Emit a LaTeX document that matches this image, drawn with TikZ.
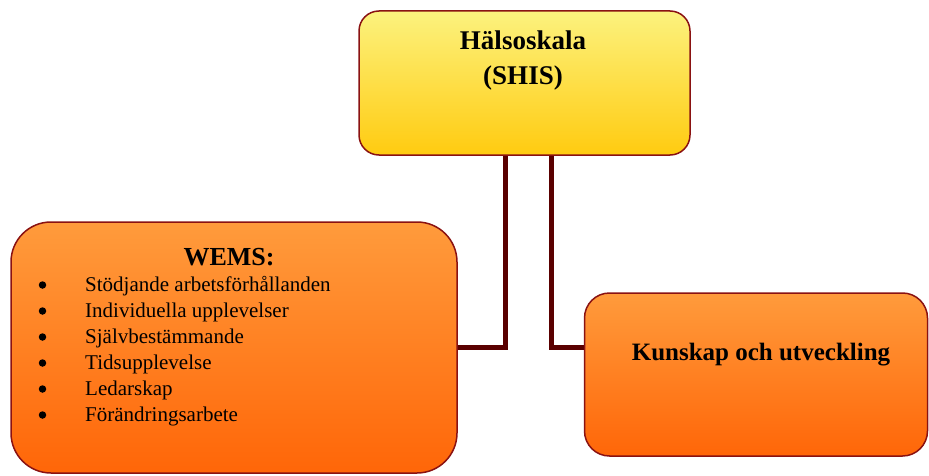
\documentclass[tikz,border=0pt]{standalone}
\usepackage{fontspec}
\setmainfont{Liberation Serif}
\usetikzlibrary{backgrounds}

\definecolor{rim}{HTML}{8A1212}
\definecolor{stem}{HTML}{5A0000}
\definecolor{lemon}{HTML}{FCF27E}
\definecolor{gold}{HTML}{FFCB10}
\definecolor{peach}{HTML}{FF9B3C}
\definecolor{flame}{HTML}{FF6608}

\begin{document}
\begin{tikzpicture}[x=1pt, y=1pt,
    panel/.style={draw=rim, line width=1.5pt, rectangle, inner sep=0pt},
    yellowpanel/.style={panel, top color=lemon, bottom color=gold},
    orangepanel/.style={panel, top color=peach, bottom color=flame},
    heading/.style={inner sep=0pt, align=center, font=\fontsize{26}{34}\selectfont\bfseries},
    entry/.style={inner sep=0pt, anchor=base west, font=\fontsize{21}{26}\selectfont},
    bullet/.style={circle, fill=black, inner sep=0pt, minimum size=7.5pt},
    link/.style={draw=stem, line width=5pt}]
    \useasboundingbox (0, 0) rectangle (929, 475);

    % boxes
    \node [yellowpanel, minimum width=331, minimum height=144, rounded corners=20pt] (hals) at (524.5, 392) {};
    \node [orangepanel, minimum width=446, minimum height=251, rounded corners=40pt] (wems) at (234, 127.5) {};
    \node [orangepanel, minimum width=343, minimum height=163, rounded corners=25pt] (kunskap) at (756, 100.5) {};

    % connectors
    \begin{scope}[on background layer]
        \draw [link] ([xshift=-19]hals.south) |- (wems.east);
        \draw [link] ([xshift=27]hals.south) |- ([yshift=27.5]kunskap.west);
    \end{scope}

    % texts
    \node [heading, font=\fontsize{27}{35}\selectfont\bfseries] (halstext) at (523, 414) {Hälsoskala\\(SHIS)};
    \node [heading] (wemstext) at (229, 218) {WEMS:};
    \node [heading, font=\fontsize{25}{30}\selectfont\bfseries] (kunskaptext) at (761, 120) {Kunskap och utveckling};

    \foreach \entrytext [count=\i] in {Stödjande arbetsförhållanden, Individuella upplevelser,
        Självbestämmande, Tidsupplevelse, Ledarskap, Förändringsarbete} {
        \node [bullet] (dot\i) at (42.5, 216 - 26*\i) {};
        \node [entry] (entry\i) at (85, 210 - 26*\i) {\entrytext};
    }
\end{tikzpicture}
\end{document}
